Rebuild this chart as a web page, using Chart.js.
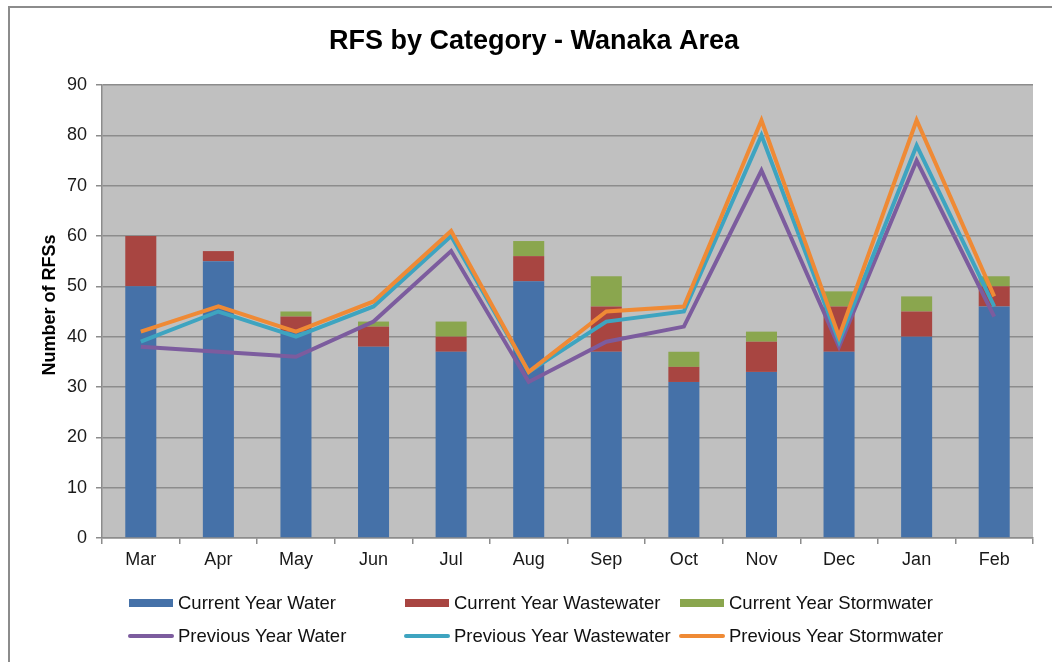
<!DOCTYPE html>
<html>
<head>
<meta charset="utf-8">
<script src="https://cdn.jsdelivr.net/npm/chart.js@4"></script>
<style>
html,body{margin:0;padding:0;background:#fff;}
#wrap{position:relative;width:1052px;height:662px;}
</style>
</head>
<body>
<div id="wrap"><canvas id="c" width="1052" height="662"></canvas></div>
<script>
const months = ["Mar","Apr","May","Jun","Jul","Aug","Sep","Oct","Nov","Dec","Jan","Feb"];
const curWater      = [50,55,41,38,37,51,37,31,33,37,40,46];
const curWastewater = [10, 2, 3, 4, 3, 5, 9, 3, 6, 9, 5, 4];
const curStormwater = [ 0, 0, 1, 1, 3, 3, 6, 3, 2, 3, 3, 2];
const prevWater      = [38,37,36,43,57,31,39,42,73,38,75,44];
const prevWastewater = [39,45,40,46,60,33,43,45,80,39,78,46];
const prevStormwater = [41,46,41,47,61,33,45,46,83,40,83,48];
const yTicks = [0,10,20,30,40,50,60,70,80,90];
const titleText = "RFS by Category - Wanaka Area";
const yTitle = "Number of RFSs";

const C = {
  blue:"#4571a8", red:"#a84541", green:"#8aa64e",
  purple:"#7c5c9e", cyan:"#3ea4c0", orange:"#ef8a35"
};
const FONT = "'Liberation Sans', Arial, sans-serif";

const legendItems = [
  {label:"Current Year Water", color:C.blue, type:"bar"},
  {label:"Current Year Wastewater", color:C.red, type:"bar"},
  {label:"Current Year Stormwater", color:C.green, type:"bar"},
  {label:"Previous Year Water", color:C.purple, type:"line"},
  {label:"Previous Year Wastewater", color:C.cyan, type:"line"},
  {label:"Previous Year Stormwater", color:C.orange, type:"line"}
];

const decor = {
  id:"decor",
  beforeDraw(chart){
    const ctx = chart.ctx, a = chart.chartArea;
    ctx.save();
    ctx.fillStyle = "#c0c0c0";
    ctx.fillRect(a.left, a.top, a.right - a.left, a.bottom - a.top);
    ctx.restore();
  },
  afterDraw(chart){
    const ctx = chart.ctx, a = chart.chartArea;
    ctx.save();
    // frame
    ctx.strokeStyle = "#8c8c8c"; ctx.lineWidth = 2;
    ctx.beginPath(); ctx.moveTo(9, 662); ctx.lineTo(9, 7); ctx.lineTo(1052, 7); ctx.stroke();
    // title
    ctx.fillStyle = "#000"; ctx.textAlign = "center"; ctx.textBaseline = "alphabetic";
    ctx.font = "bold 27px " + FONT;
    ctx.fillText(titleText, 534, 49);
    // y title
    ctx.save();
    ctx.translate(50, 305);
    ctx.rotate(-Math.PI / 2);
    ctx.textBaseline = "middle";
    ctx.font = "bold 18px " + FONT;
    ctx.fillText(yTitle, 0, 0);
    ctx.restore();
    // legend
    const cols = [129, 405, 680], rows = [603, 636];
    ctx.font = "18.5px " + FONT; ctx.textAlign = "left"; ctx.textBaseline = "middle";
    legendItems.forEach((it, i) => {
      const x = cols[i % 3], y = rows[Math.floor(i / 3)];
      if (it.type === "bar") {
        ctx.fillStyle = it.color;
        ctx.fillRect(x, y - 4, 44, 8);
      } else {
        ctx.strokeStyle = it.color; ctx.lineWidth = 4; ctx.lineCap = "round";
        ctx.beginPath(); ctx.moveTo(x + 1, y); ctx.lineTo(x + 43, y); ctx.stroke();
      }
      ctx.fillStyle = "#111";
      ctx.fillText(it.label, x + 49, y + 1);
    });
    ctx.restore();
  }
};

const barDs = (label, data, color) => ({
  type:"bar", label, data, backgroundColor:color, borderWidth:0,
  stack:"cur", order:2, barPercentage:0.4, categoryPercentage:1
});
const lineDs = (label, data, color, st) => ({
  type:"line", label, data, borderColor:color, backgroundColor:color,
  borderWidth:4, pointRadius:0, tension:0, fill:false, stack:st, order:1,
  borderJoinStyle:"miter", borderCapStyle:"butt"
});

new Chart(document.getElementById("c"), {
  data:{
    labels: months,
    datasets:[
      barDs(legendItems[0].label, curWater, C.blue),
      barDs(legendItems[1].label, curWastewater, C.red),
      barDs(legendItems[2].label, curStormwater, C.green),
      lineDs(legendItems[5].label, prevStormwater, C.orange, "p3"),
      lineDs(legendItems[4].label, prevWastewater, C.cyan, "p2"),
      lineDs(legendItems[3].label, prevWater, C.purple, "p1")
    ]
  },
  options:{
    responsive:false, animation:false, devicePixelRatio:1,
    layout:{padding:{left:0, right:19, top:85, bottom:84}},
    plugins:{legend:{display:false}, title:{display:false}, tooltip:{enabled:false}},
    scales:{
      x:{
        stacked:true, offset:true,
        grid:{display:true, offset:true, drawOnChartArea:false, drawTicks:true, tickLength:6, color:"#8c8c8c", lineWidth:1.5},
        border:{display:true, color:"#8c8c8c", width:1.5},
        ticks:{color:"#1a1a1a", font:{family:FONT, size:18}, padding:5, maxRotation:0},
        afterFit(s){ s.height = 40; }
      },
      y:{
        stacked:true, min:0, max:90,
        afterBuildTicks(s){ s.ticks = yTicks.map(v => ({value:v})); },
        grid:{color:"#8c8c8c", lineWidth:1.5, tickLength:6, drawTicks:true},
        border:{display:true, color:"#8c8c8c", width:1.5},
        ticks:{color:"#1a1a1a", font:{family:FONT, size:18}, padding:9},
        afterFit(s){ s.width = 102; }
      }
    }
  },
  plugins:[decor]
});
</script>
</body>
</html>
